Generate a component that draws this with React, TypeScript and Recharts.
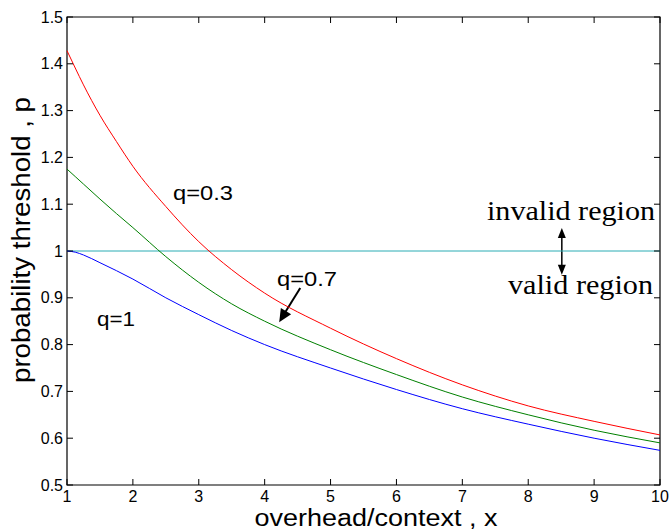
import React from 'react';
import { LineChart, Line, XAxis, YAxis, ReferenceLine, ReferenceArea, Customized } from 'recharts';

// overhead/context ratio
const xValues = [1, 1.125, 1.25, 1.5, 1.75, 2, 2.5, 3, 3.5, 4, 5, 6, 7, 8, 9, 10];
// probability threshold for each q
const pQ03 = [1.428, 1.391, 1.355, 1.29, 1.234, 1.181, 1.095, 1.02, 0.96, 0.91, 0.835, 0.77, 0.714, 0.669, 0.636, 0.607];
const pQ07 = [1.175, 1.159, 1.143, 1.111, 1.08, 1.05, 0.988, 0.933, 0.887, 0.85, 0.789, 0.736, 0.688, 0.65, 0.617, 0.59];
const pQ1 = [1.0, 0.9975, 0.9915, 0.975, 0.958, 0.94, 0.9, 0.864, 0.83, 0.8, 0.75, 0.704, 0.663, 0.63, 0.6, 0.574];

const xTicks = [1, 2, 3, 4, 5, 6, 7, 8, 9, 10];
const yTicks = [0.5, 0.6, 0.7, 0.8, 0.9, 1, 1.1, 1.2, 1.3, 1.4, 1.5];
const threshold = 1;

const data = xValues.map((x, i) => ({ x, q03: pQ03[i], q07: pQ07[i], q1: pQ1[i] }));

const W = 671;
const H = 531;
const LEFT = 67;
const TOP = 17;
const RIGHT = 660;
const BOTTOM = 485;
const TICK_LEN = 6;

const X_DOMAIN: [number, number] = [1, 10];
const Y_DOMAIN: [number, number] = [0.5, 1.5];

const SANS = '"Liberation Sans", Arial, Helvetica, sans-serif';
const SERIF = '"Liberation Serif", "Times New Roman", Times, serif';

// data -> pixel, same box as the plot area
const px = (x: number) => LEFT + ((x - X_DOMAIN[0]) / (X_DOMAIN[1] - X_DOMAIN[0])) * (RIGHT - LEFT);
const py = (y: number) => BOTTOM - ((y - Y_DOMAIN[0]) / (Y_DOMAIN[1] - Y_DOMAIN[0])) * (BOTTOM - TOP);

function YTick({ y, payload }: any) {
  const label = String(Number(payload.value.toFixed(1)));
  return (
    <g>
      <line x1={LEFT} x2={LEFT + TICK_LEN} y1={y} y2={y} stroke="#000" />
      <line x1={RIGHT - TICK_LEN} x2={RIGHT} y1={y} y2={y} stroke="#000" />
      <text x={LEFT - 4} y={y} dy="0.35em" textAnchor="end" fontSize={16} fontFamily={SANS} fill="#000">
        {label}
      </text>
    </g>
  );
}

function XTick({ x, payload }: any) {
  return (
    <g>
      <line x1={x} x2={x} y1={BOTTOM} y2={BOTTOM - TICK_LEN} stroke="#000" />
      <line x1={x} x2={x} y1={TOP} y2={TOP + TICK_LEN} stroke="#000" />
      <text x={x} y={BOTTOM + 17} textAnchor="middle" fontSize={16} fontFamily={SANS} fill="#000">
        {payload.value}
      </text>
    </g>
  );
}

// filled triangular arrow head with its tip at (tx, ty), pointing away from (fx, fy)
function arrowHead(tx: number, ty: number, fx: number, fy: number, len: number, half: number) {
  const dx = fx - tx;
  const dy = fy - ty;
  const d = Math.hypot(dx, dy);
  const ux = dx / d;
  const uy = dy / d;
  const bx = tx + ux * len;
  const by = ty + uy * len;
  return `${tx},${ty} ${bx - uy * half},${by + ux * half} ${bx + uy * half},${by - ux * half}`;
}

function Annotations() {
  // q=0.7 pointer
  const a0 = { x: px(4.54), y: py(0.921) };
  const a1 = { x: px(4.22), y: py(0.848) };
  // valid / invalid double arrow
  const dX = px(8.51);
  const dTop = py(1.049);
  const dBot = py(0.949);
  return (
    <g>
      <text x={173} y={200} fontSize={21} fontFamily={SANS} textLength={60} lengthAdjust="spacingAndGlyphs">
        q=0.3
      </text>
      <text x={277} y={286} fontSize={21} fontFamily={SANS} textLength={60} lengthAdjust="spacingAndGlyphs">
        q=0.7
      </text>
      <text x={97} y={326} fontSize={21} fontFamily={SANS} textLength={38} lengthAdjust="spacingAndGlyphs">
        q=1
      </text>
      <line x1={a0.x} y1={a0.y} x2={a1.x + (a0.x - a1.x) * 0.25} y2={a1.y + (a0.y - a1.y) * 0.25} stroke="#000" strokeWidth={2} />
      <polygon points={arrowHead(a1.x, a1.y, a0.x, a0.y, 13, 6)} fill="#000" />

      <text x={487} y={220} fontSize={28} fontFamily={SERIF} textLength={168} lengthAdjust="spacingAndGlyphs">
        invalid region
      </text>
      <text x={508} y={294} fontSize={28} fontFamily={SERIF} textLength={145} lengthAdjust="spacingAndGlyphs">
        valid region
      </text>
      <line x1={dX} x2={dX} y1={dTop + 8} y2={dBot - 8} stroke="#000" strokeWidth={1.5} />
      <polygon points={arrowHead(dX, dTop, dX, dBot, 10, 4)} fill="#000" />
      <polygon points={arrowHead(dX, dBot, dX, dTop, 10, 4)} fill="#000" />

      <text x={376} y={526} textAnchor="middle" fontSize={23} fontFamily={SANS} textLength={243} lengthAdjust="spacingAndGlyphs">
        overhead/context , x
      </text>
      <text
        x={30}
        y={240}
        transform="rotate(-90, 30, 240)"
        textAnchor="middle"
        fontSize={25}
        fontFamily={SANS}
        textLength={286}
        lengthAdjust="spacingAndGlyphs"
      >
        probability threshold , p
      </text>
    </g>
  );
}

export default function App() {
  return (
    <div style={{ position: 'absolute', left: 0, top: 0, width: W, height: H, background: '#fff' }}>
      <LineChart
        width={W}
        height={H}
        data={data}
        margin={{ top: TOP, right: W - RIGHT, bottom: 0, left: 0 }}
      >
        <XAxis
          dataKey="x"
          type="number"
          domain={X_DOMAIN}
          ticks={xTicks}
          height={H - BOTTOM}
          axisLine={false}
          tickLine={false}
          tick={<XTick />}
          interval={0}
        />
        <YAxis
          type="number"
          domain={Y_DOMAIN}
          ticks={yTicks}
          width={LEFT}
          axisLine={false}
          tickLine={false}
          tick={<YTick />}
          interval={0}
        />
        <ReferenceArea x1={X_DOMAIN[0]} x2={X_DOMAIN[1]} y1={Y_DOMAIN[0]} y2={Y_DOMAIN[1]} fill="none" fillOpacity={0} stroke="#000" strokeWidth={1.2} />
        <ReferenceLine y={threshold} stroke="#2aacb4" strokeWidth={1} />
        <Line type="monotone" dataKey="q03" stroke="#ff0000" strokeWidth={1} dot={false} isAnimationActive={false} />
        <Line type="monotone" dataKey="q07" stroke="#008000" strokeWidth={1} dot={false} isAnimationActive={false} />
        <Line type="monotone" dataKey="q1" stroke="#0000ff" strokeWidth={1} dot={false} isAnimationActive={false} />
        <Customized component={Annotations} />
      </LineChart>
    </div>
  );
}
